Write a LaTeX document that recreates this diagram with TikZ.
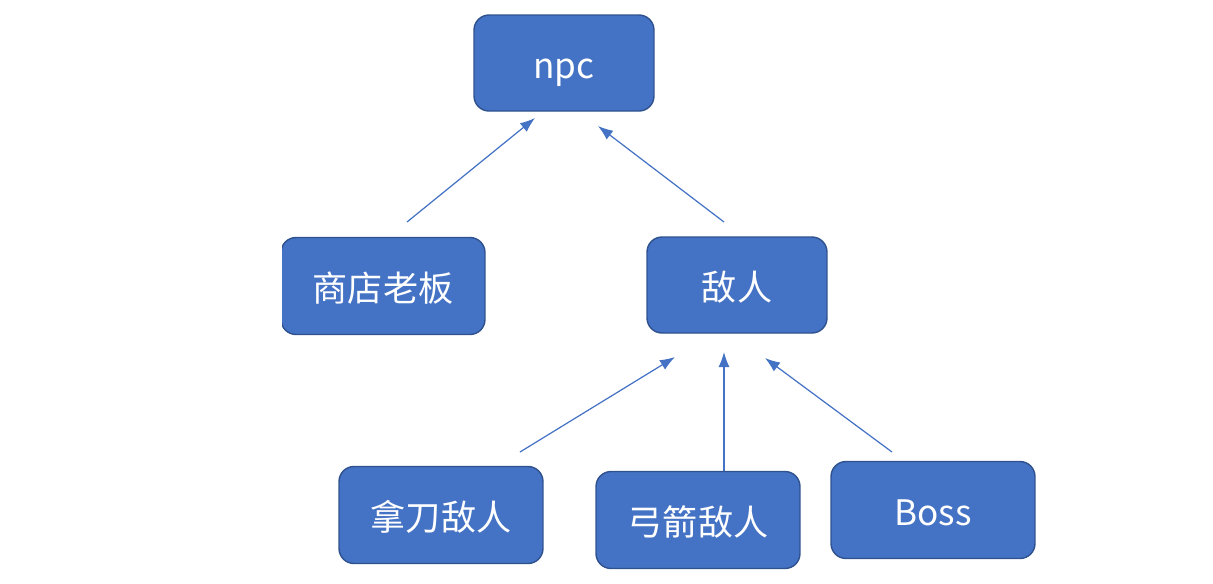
\documentclass[tikz,border=0pt]{standalone}
\usepackage{fontspec}
\setmainfont{Noto Sans CJK SC}
\usetikzlibrary{arrows.meta}
\definecolor{boxblue}{HTML}{4472C4}
\definecolor{boxedge}{HTML}{2F528F}

\begin{document}
\begin{tikzpicture}[>={Latex[length=3mm, width=2.2mm]}, x=0.02cm, y=-0.02cm]

    % estilos
    \tikzstyle{classbox}=[rectangle, rounded corners=0.3cm, draw=boxedge, line width=0.8pt, fill=boxblue, text=white, font=\fontsize{20}{24}\selectfont, text height=0.7cm, text depth=0.1cm, minimum width=3.6cm, minimum height=1.92cm]
    \tikzstyle{wide}=[minimum width=4.08cm, minimum height=1.94cm]
    \tikzstyle{herda}=[->, boxblue, line width=0.7pt]

    \useasboundingbox (0,0) rectangle (1213,583);

    % classe base
    \node[classbox] (npc) at (564,63) {npc};

    % segundo nivel
    \begin{scope}
        \clip (282,0) rectangle (1213,583);
        \node[classbox, wide] (shop) at (383,286) {商店老板};
    \end{scope}
    \node[classbox] (enemy) at (737,285) {敌人};

    % terceiro nivel
    \node[classbox, wide] (knife) at (441,515) {拿刀敌人};
    \node[classbox, wide] (bow) at (698,520) {弓箭敌人};
    \node[classbox, wide] (boss) at (933,510) {Boss};

    % pontas das setas
    \coordinate (shopTop) at (407,222);
    \coordinate (npcL) at (535,118);
    \coordinate (enemyTop) at (724,222);
    \coordinate (npcR) at (598,126);
    \coordinate (knifeTop) at (520,452);
    \coordinate (enemyL) at (675,357);
    \coordinate (bowTop) at (724,471);
    \coordinate (enemyM) at (724,352);
    \coordinate (bossTop) at (892,452);
    \coordinate (enemyR) at (765,358);

    % heranca
    \draw[herda] (shopTop) -- (npcL);
    \draw[herda] (enemyTop) -- (npcR);
    \draw[herda] (knifeTop) -- (enemyL);
    \draw[herda] (bowTop) -- (enemyM);
    \draw[herda] (bossTop) -- (enemyR);

\end{tikzpicture}
\end{document}
